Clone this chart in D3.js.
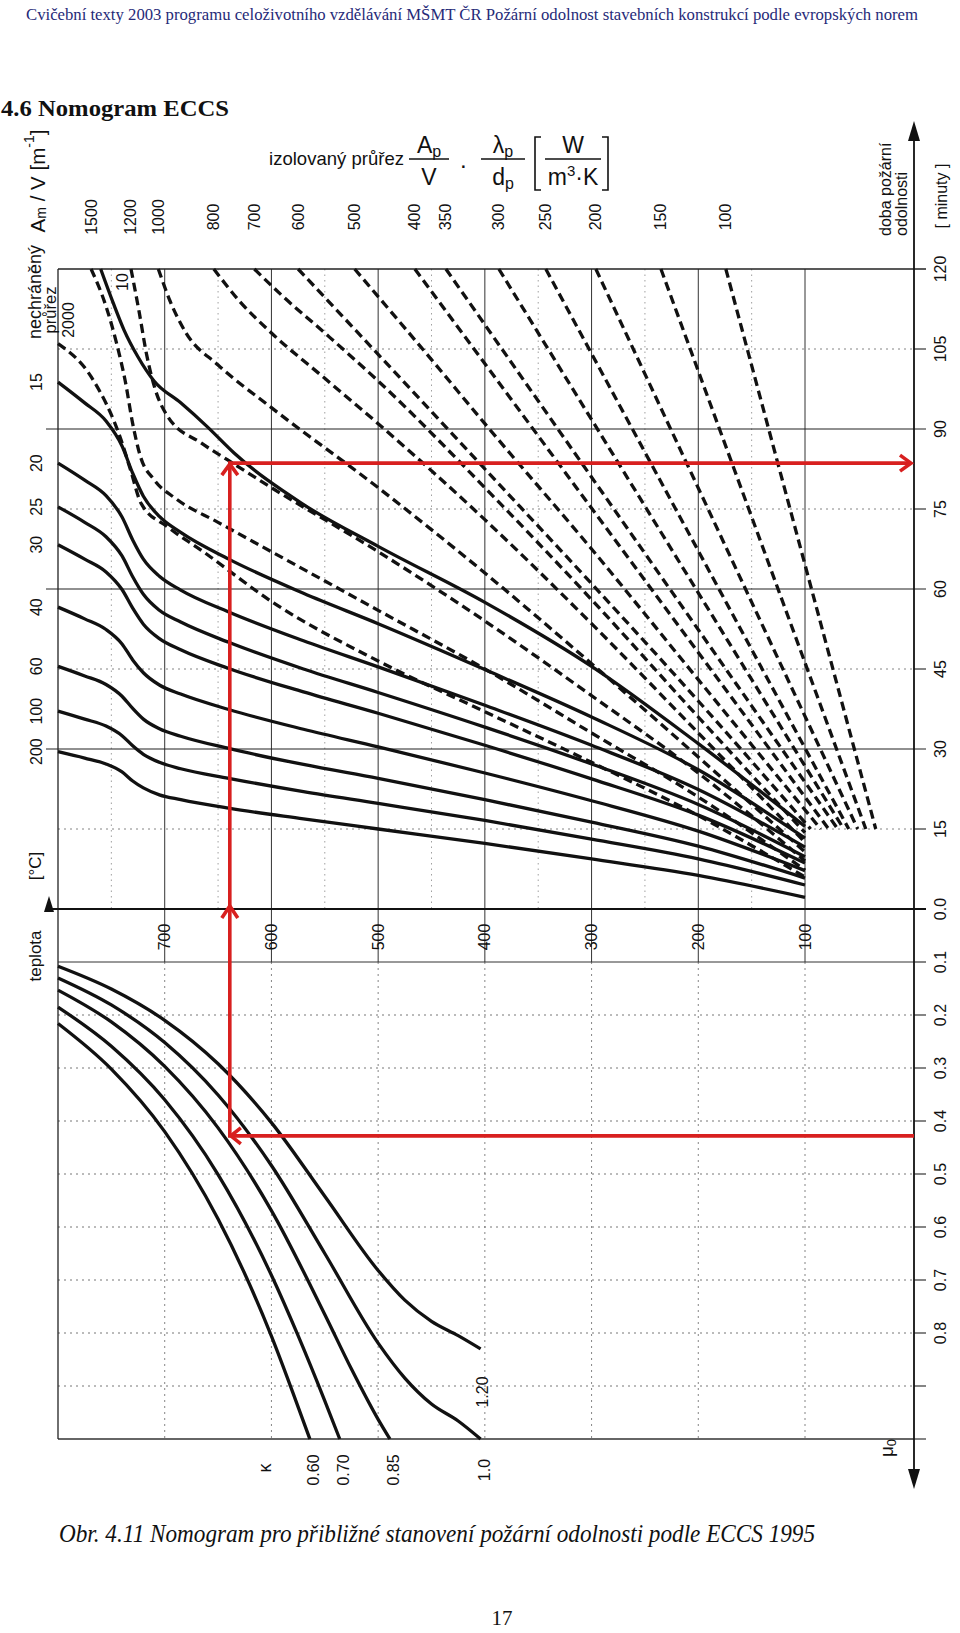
<!DOCTYPE html>
<html><head><meta charset="utf-8">
<script src="https://cdn.jsdelivr.net/npm/d3@7"></script>
<style>
body{margin:0;background:#fff}
svg{display:block}
text{font-family:"Liberation Sans",Arial,Helvetica,sans-serif;fill:#111}
.serif{font-family:"Liberation Serif","Times New Roman",serif}
</style>
</head><body>
<svg id="c" width="960" height="1633"></svg>
<script>
// ---------------- DATA ----------------
const tempTicks   = [700,600,500,400,300,200,100];
const tempMinor   = [750,650,550,450,350,250,150];
const timeMajor   = [120,90,60,30];
const timeMinor   = [105,75,45,15];
const timeTicks   = [120,105,90,75,60,45,30,15,0];
const timeLabels  = ["120","105","90","75","60","45","30","15","0.0"];
const muTicks     = [0.1,0.2,0.3,0.4,0.5,0.6,0.7,0.8,0.9,1.0];
const muLabels    = ["0.1","0.2","0.3","0.4","0.5","0.6","0.7","0.8","",""];

// unprotected sections Am/V  [temperature °C, time min]
const am10  = [[760,120],[748,113.5],[738,108.5],[725,103.5],[710,99],[685,94.9],[660,90.4],[635,85.5],[572,76.1],[500,68],[400,57.5],[300,45.5],[200,31],[100,15.5]];
const am15  = [[800,98.8],[775,94.9],[755,91.5],[740,86.8],[730,81.7],[720,77.4],[705,73.6],[685,70.6],[640,65.6],[570,59.2],[500,53.5],[400,44.9],[300,36.0],[200,26.1],[100,13.3]];
const am20  = [[800,83.6],[775,80.4],[755,77.5],[740,73.5],[730,69.2],[720,65.6],[705,62.4],[685,59.8],[640,55.7],[570,50.3],[500,45.4],[400,38.2],[300,30.7],[200,22.4],[100,11.6]];
const am25  = [[800,75.4],[775,72.5],[755,69.8],[740,66.2],[730,62.3],[720,59.0],[705,56.0],[685,53.8],[640,50.0],[570,45.0],[500,40.6],[400,34.1],[300,27.2],[200,19.6],[100,9.8]];
const am30  = [[800,68.3],[775,65.6],[755,63.2],[740,59.9],[730,56.4],[720,53.4],[705,50.7],[685,48.6],[640,45.1],[570,40.7],[500,36.7],[400,30.7],[300,24.4],[200,17.6],[100,8.6]];
const am40  = [[800,56.6],[775,54.4],[755,52.4],[740,49.7],[730,46.7],[720,44.3],[705,42.0],[685,40.3],[640,37.4],[570,33.7],[500,30.4],[400,25.5],[300,20.3],[200,14.6],[100,7.2]];
const am60  = [[800,45.5],[775,43.7],[755,42.1],[740,39.9],[730,37.6],[720,35.6],[705,33.8],[685,32.4],[640,30.1],[570,27.1],[500,24.5],[400,20.5],[300,16.3],[200,11.8],[100,5.8]];
const am100 = [[800,37.1],[775,35.6],[755,34.3],[740,32.5],[730,30.6],[720,29.0],[705,27.5],[685,26.3],[640,24.5],[570,22.0],[500,19.8],[400,16.6],[300,13.1],[200,9.4],[100,4.5]];
const am200 = [[800,29.5],[775,28.3],[755,27.2],[740,25.7],[730,24.0],[720,22.7],[705,21.4],[685,20.5],[640,18.9],[570,16.9],[500,15.0],[400,12.3],[300,9.4],[200,6.3],[100,2.2]];
const unprotectedLabels = ["15","20","25","30","40","60","100","200"];

// insulated sections Ap/V·λp/dp  [temperature °C, time min]
const ins2000 = [[800,106],[769,99.8],[741,88],[732,82.3],[722,76],[697,71.6],[666,67.3],[598,57.4],[500,46.5],[400,37],[300,27.5],[200,17.5],[100,6.0]];
const ins1500 = [[769,120],[755,113],[745,106],[737,99],[730,91],[723,85],[710,80.5],[690,77],[650,72.5],[600,67],[500,56],[400,45],[300,33],[200,21],[100,7.3]];
const ins1200 = [[731.6,120],[724,112],[717,104],[709,97.5],[697,92.3],[666,87.4],[641,84.2],[600,79],[500,67],[400,54],[300,40],[200,25.5],[100,9.0]];
const ins1000 = [[706,120],[695,114],[680,108],[650,102],[600,94],[500,79],[400,63],[300,46],[200,28.5],[100,10.7]];
const ins800  = [[654,120],[630,114],[600,108],[550,99.5],[500,91],[400,73],[300,53.5],[200,33],[100,12.5]];
const ins700  = [[616,120],[590,115],[550,108],[500,99],[400,79],[300,58],[200,36],[100,14.3]];
const ins600  = [[575,120],[500,104],[400,82.5],[300,61],[200,39],[94.7,15]];
const ins500  = [[522,120],[450,103],[400,91],[300,67.5],[200,43],[85.3,15]];
const ins400  = [[465.6,120],[77.8,15]];
const ins350  = [[436.5,120],[69.3,15]];
const ins300  = [[386.9,120],[63.7,15]];
const ins250  = [[342.9,120],[59,15]];
const ins200  = [[296,120],[50.6,15]];
const ins150  = [[235,120],[43,15]];
const ins100  = [[174.2,120],[33.7,15]];
const insulatedLabels = ["1500","1200","1000","800","700","600","500","400","350","300","250","200","150","100"];

// reduction curves kappa  [temperature °C, mu0]
const k060 = [[800,0.216],[750,0.302],[700,0.42],[650,0.585],[600,0.806],[580,0.912],[564,1.0]];
const k070 = [[800,0.185],[750,0.259],[700,0.36],[650,0.501],[600,0.691],[575,0.805],[550,0.928],[536,1.0]];
const k085 = [[800,0.153],[750,0.213],[700,0.297],[650,0.413],[600,0.569],[550,0.765],[525,0.868],[500,0.963],[489,1.0]];
const k100 = [[800,0.13],[750,0.181],[700,0.252],[650,0.351],[600,0.484],[550,0.65],[500,0.819],[475,0.885],[450,0.934],[425,0.966],[404,1.0]];
const k120 = [[800,0.108],[750,0.151],[700,0.21],[650,0.292],[600,0.403],[550,0.542],[500,0.682],[475,0.738],[450,0.778],[425,0.805],[404,0.83]];
const kappaLabels = ["0.60","0.70","0.85","1.0","1.20"];

// worked example (red)
const example = {mu:0.428, temp:639, time:83.6};

// ---------------- DRAW ----------------
const svg = d3.select("#c");
const x  = d3.scaleLinear().domain([800,100]).range([58,805]);
const yT = d3.scaleLinear().domain([0,120]).range([909,269]);
const yM = d3.scaleLinear().domain([0,1]).range([909,1439]);
const AX = 914;                // right axis position
const L  = x(800);

const g = svg.append("g");

// grid - upper
g.selectAll(".vmaj").data(tempTicks).join("line")
  .attr("x1",d=>x(d)).attr("x2",d=>x(d)).attr("y1",yT(120)).attr("y2",yT(0))
  .attr("stroke","#333").attr("stroke-width",1);
g.selectAll(".vmin").data(tempMinor).join("line")
  .attr("x1",d=>x(d)).attr("x2",d=>x(d)).attr("y1",yT(120)).attr("y2",yT(0))
  .attr("stroke","#888").attr("stroke-width",0.8).attr("stroke-dasharray","1.5,4");
g.selectAll(".hmaj").data(timeMajor).join("line")
  .attr("x1",d=>d===120?L:L-12).attr("x2",AX+12).attr("y1",d=>yT(d)).attr("y2",d=>yT(d))
  .attr("stroke","#222").attr("stroke-width",d=>d===120?1.6:1.1);
g.selectAll(".hmin").data(timeMinor).join("line")
  .attr("x1",L).attr("x2",AX).attr("y1",d=>yT(d)).attr("y2",d=>yT(d))
  .attr("stroke","#777").attr("stroke-width",0.9).attr("stroke-dasharray","2,4");
g.selectAll(".hmint").data(timeMinor).join("line")
  .attr("x1",AX).attr("x2",AX+12).attr("y1",d=>yT(d)).attr("y2",d=>yT(d))
  .attr("stroke","#222").attr("stroke-width",1.1);

// grid - lower
g.selectAll(".vlow").data(tempTicks).join("line")
  .attr("x1",d=>x(d)).attr("x2",d=>x(d)).attr("y1",yM(0)).attr("y2",yM(0.1))
  .attr("stroke","#333").attr("stroke-width",1);
g.selectAll(".vlow2").data(tempTicks).join("line")
  .attr("x1",d=>x(d)).attr("x2",d=>x(d)).attr("y1",yM(0.1)).attr("y2",yM(1))
  .attr("stroke","#777").attr("stroke-width",0.9).attr("stroke-dasharray","2,4");
g.selectAll(".hlow").data(muTicks).join("line")
  .attr("x1",L).attr("x2",AX).attr("y1",d=>yM(d)).attr("y2",d=>yM(d))
  .attr("stroke",d=>(d<0.15||d>0.95)?"#333":"#777")
  .attr("stroke-width",d=>d>0.95?1.4:1)
  .attr("stroke-dasharray",d=>(d<0.15||d>0.95)?null:"2,4");
g.selectAll(".hlowt").data(muTicks).join("line")
  .attr("x1",AX).attr("x2",AX+12).attr("y1",d=>yM(d)).attr("y2",d=>yM(d))
  .attr("stroke","#222").attr("stroke-width",1.1);

// frame: left edge, zero line
g.append("line").attr("x1",L).attr("x2",L).attr("y1",yT(120)).attr("y2",yM(1)).attr("stroke","#222").attr("stroke-width",1.3);
g.append("line").attr("x1",L-6).attr("x2",AX+12).attr("y1",yT(0)).attr("y2",yT(0)).attr("stroke","#111").attr("stroke-width",2.2);

// right axis with arrows
g.append("line").attr("x1",AX).attr("x2",AX).attr("y1",yT(120)-140).attr("y2",yM(1)+40).attr("stroke","#111").attr("stroke-width",1.8);
g.append("path").attr("d",`M${AX},${yT(120)-148} L${AX-6},${yT(120)-128} L${AX+6},${yT(120)-128} Z`).attr("fill","#111");
g.append("path").attr("d",`M${AX},${yM(1)+50} L${AX-6},${yM(1)+30} L${AX+6},${yM(1)+30} Z`).attr("fill","#111");

// curves
const lineT = d3.line().x(d=>x(d[0])).y(d=>yT(d[1])).curve(d3.curveMonotoneX);
const lineM = d3.line().x(d=>x(d[0])).y(d=>yM(d[1])).curve(d3.curveMonotoneX);

const dashed = [ins2000,ins1500,ins1200,ins1000,ins800,ins700,ins600,ins500,ins400,ins350,ins300,ins250,ins200,ins150,ins100];
const solid  = [am10,am15,am20,am25,am30,am40,am60,am100,am200];
const kappa  = [k060,k070,k085,k100,k120];

g.selectAll(".ins").data(dashed).join("path")
  .attr("d",lineT).attr("fill","none").attr("stroke","#111").attr("stroke-width",3.3)
  .attr("stroke-dasharray","9,5");
g.selectAll(".am").data(solid).join("path")
  .attr("d",lineT).attr("fill","none").attr("stroke","#111").attr("stroke-width",3.3);
g.selectAll(".kap").data(kappa).join("path")
  .attr("d",lineM).attr("fill","none").attr("stroke","#111").attr("stroke-width",3.3);

// red example path
const red = "#d8201f";
const ex = x(example.temp), eyM = yM(example.mu), eyT = yT(example.time);
g.append("path").attr("d",`M${AX},${eyM} L${ex},${eyM} L${ex},${eyT} L${AX-3},${eyT}`)
  .attr("fill","none").attr("stroke",red).attr("stroke-width",3.6);
const chev = (d)=>g.append("path").attr("d",d).attr("fill","none").attr("stroke",red).attr("stroke-width",3.6).attr("stroke-linejoin","miter");
chev(`M${ex+11},${eyM-8} L${ex+1},${eyM} L${ex+11},${eyM+8}`);
chev(`M${ex-8},${yT(0)+9} L${ex},${yT(0)-3} L${ex+8},${yT(0)+9}`);
chev(`M${ex-8},${eyT+12} L${ex},${eyT+1} L${ex+8},${eyT+12}`);
chev(`M${AX-14},${eyT-8} L${AX-3},${eyT} L${AX-14},${eyT+8}`);

// ---------------- TEXT ----------------
function rot(xp, yp, txt, size, anchor){
  return svg.append("text").attr("transform",`translate(${xp},${yp}) rotate(-90)`)
    .attr("text-anchor",anchor||"middle").attr("dominant-baseline","central")
    .style("font-size",size+"px").text(txt);
}
// right axis labels
timeTicks.forEach((d,i)=>rot(940, yT(d), timeLabels[i], 16));
muTicks.forEach((d,i)=>{ if(muLabels[i]) rot(940, yM(d), muLabels[i], 16); });
// temperature labels
tempTicks.forEach(d=>rot(x(d), 937, String(d), 16));
// top labels of insulated curves
dashed.slice(1).forEach((c,i)=>rot(x(c[0][0]), 217, insulatedLabels[i], 16));
// left labels of unprotected curves
solid.slice(1).forEach((c,i)=>rot(36, yT(c[0][1]), unprotectedLabels[i], 16));
rot(x(am10[0][0])+22, 282, "10", 16);
rot(68, 320, "2000", 16);
// kappa labels
kappa.forEach((c,i)=>{
  const last = c[c.length-1];
  rot(x(last[0])+(i===4?2:4), last[1]>0.99 ? 1470 : 1392, kappaLabels[i], 16);
});
rot(265, 1468, "κ", 18);

// left titles
rot(35, 292, "nechráněný", 18);
rot(50, 310, "průřez", 16.5);
const am = svg.append("text").attr("transform","translate(37,181) rotate(-90)")
  .attr("text-anchor","middle").attr("dominant-baseline","central").style("font-size","20.5px");
am.append("tspan").text("A");
am.append("tspan").attr("dy",4).style("font-size","14px").text("m");
am.append("tspan").attr("dy",-4).text(" / V [m");
am.append("tspan").attr("dy",-8).style("font-size","14px").text("-1");
am.append("tspan").attr("dy",8).text("]");
rot(35, 956, "teplota", 17);
rot(35, 866, "[°C]", 17);
svg.append("path").attr("d","M49,896 L44,912 L54,912 Z").attr("fill","#111");

// right titles
rot(885, 236, "doba požární", 16, "start");
rot(901, 236, "odolnosti", 16, "start");
rot(941, 196, "[ minuty ]", 16);
const mu = svg.append("text").attr("transform","translate(886,1448) rotate(-90)")
  .attr("text-anchor","middle").attr("dominant-baseline","central").style("font-size","19px");
mu.append("tspan").text("μ");
mu.append("tspan").attr("dy",5).style("font-size","13px").text("0");

// insulated-section header
svg.append("text").attr("x",269).attr("y",165).style("font-size","18.5px").attr("textLength",135).text("izolovaný průřez");
function frac(cx, num, numSub, den, denSub, denSup, w){
  const t1 = svg.append("text").attr("x",cx).attr("y",153).attr("text-anchor","middle").style("font-size","23px");
  t1.append("tspan").text(num);
  if(numSub) t1.append("tspan").attr("dy",4).style("font-size","16px").text(numSub);
  svg.append("line").attr("x1",cx-w/2).attr("x2",cx+w/2).attr("y1",159).attr("y2",159).attr("stroke","#111").attr("stroke-width",1.6);
  const t2 = svg.append("text").attr("x",cx).attr("y",185).attr("text-anchor","middle").style("font-size","23px");
  t2.append("tspan").text(den);
  if(denSub) t2.append("tspan").attr("dy",4).style("font-size","16px").text(denSub);
  if(denSup){ t2.append("tspan").attr("dy",-9).style("font-size","15px").text(denSup[0]);
              t2.append("tspan").attr("dy",9).text(denSup[1]); }
}
frac(429,"A","p","V",null,null,40);
svg.append("text").attr("x",460).attr("y",168).style("font-size","24px").text(".");
frac(503,"λ","p","d","p",null,44);
frac(573,"W",null,"m",null,["3","·K"],56);
svg.append("path").attr("d","M541,137 L535,137 L535,190 L541,190").attr("fill","none").attr("stroke","#111").attr("stroke-width",1.6);
svg.append("path").attr("d","M602,137 L608,137 L608,190 L602,190").attr("fill","none").attr("stroke","#111").attr("stroke-width",1.6);

// page texts
svg.append("text").attr("class","serif").attr("x",26).attr("y",20).attr("textLength",892).attr("lengthAdjust","spacingAndGlyphs")
  .style("font-size","16px").style("fill","#262a78")
  .text("Cvičební texty 2003 programu celoživotního vzdělávání MŠMT ČR Požární odolnost stavebních konstrukcí podle evropských norem");
svg.append("text").attr("class","serif").attr("x",1).attr("y",116).attr("textLength",228).attr("lengthAdjust","spacingAndGlyphs")
  .style("font-size","23px").style("font-weight","bold").text("4.6 Nomogram ECCS");
svg.append("text").attr("class","serif").attr("x",59).attr("y",1542).attr("textLength",756).attr("lengthAdjust","spacingAndGlyphs")
  .style("font-size","25px").style("font-style","italic")
  .text("Obr. 4.11  Nomogram pro přibližné stanovení požární odolnosti podle ECCS 1995");
svg.append("text").attr("class","serif").attr("x",502).attr("y",1625).attr("text-anchor","middle")
  .style("font-size","21px").text("17");
</script>
</body></html>
